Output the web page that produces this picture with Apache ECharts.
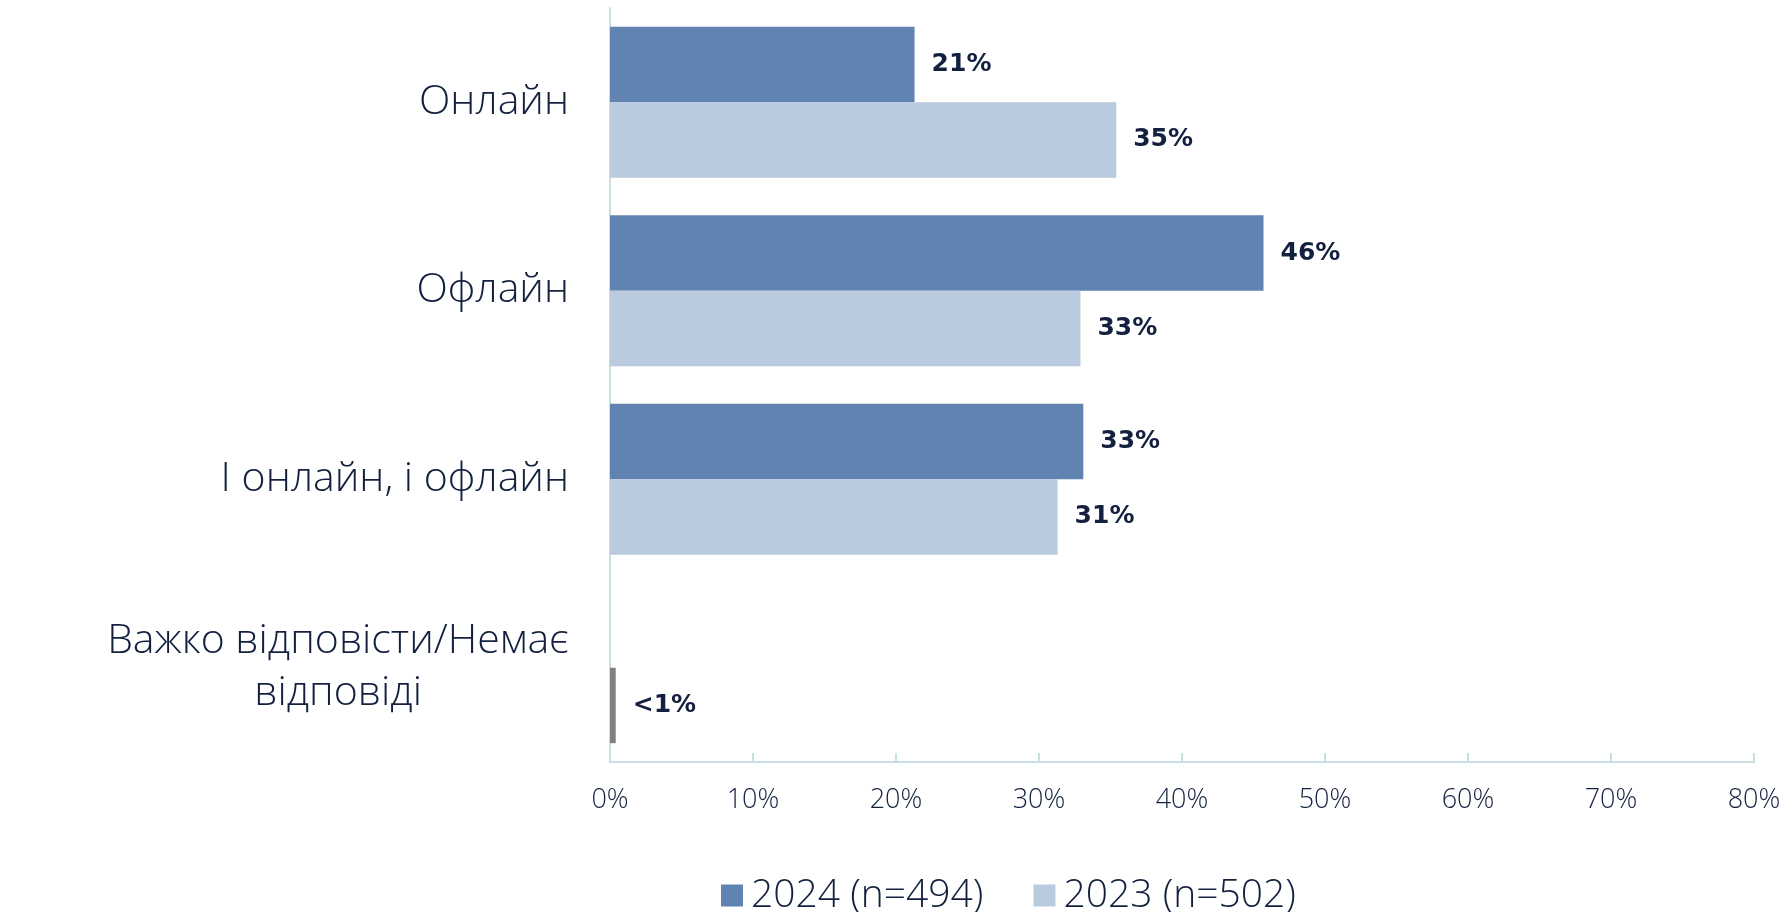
<!DOCTYPE html>
<html>
<head>
<meta charset="utf-8">
<script src="https://cdn.jsdelivr.net/npm/echarts@6/dist/echarts.min.js"></script>
<style>
html,body{margin:0;padding:0;background:#fff;}
#chart{width:1792px;height:912px;}
</style>
</head>
<body>
<div id="chart"></div>
<script>
const categories = ['Онлайн', 'Офлайн', 'І онлайн, і офлайн', 'Важко відповісти/Немає\nвідповіді'];
const seriesNames = ['2024 (n=494)', '2023 (n=502)'];
const values2024 = [21.3, 45.7, 33.1, null];
const values2023 = [35.4, 32.9, 31.3, 0.4];
const xTicks = [0, 10, 20, 30, 40, 50, 60, 70, 80];

const TEXT = '#13213F';
const FONT = "'Open Sans', 'Noto Sans', sans-serif";
const BFONT = "'DejaVu Sans', 'Open Sans', sans-serif";
const C2024 = '#6183B1';
const C2023 = '#BACADF';
const CGREY = '#808080';
const AXIS = '#C9E0E2';

function fmt(p) {
  const v = p.value;
  if (v == null) return '';
  return v < 1 ? '<1%' : Math.round(v) + '%';
}

const labelStyle = {
  show: true, position: 'right', distance: 17,
  color: TEXT, fontFamily: BFONT, fontWeight: 700, fontSize: 25,
  formatter: fmt
};

const chart = echarts.init(document.getElementById('chart'));
chart.setOption({
  backgroundColor: '#fff',
  animation: false,
  grid: { left: 610, right: 38, top: 8, bottom: 150, containLabel: false },
  legend: {
    left: 716, top: 871,
    itemWidth: 22, itemHeight: 22, itemGap: 50,
    icon: 'rect',
    textStyle: { color: TEXT, fontFamily: FONT, fontWeight: 300, fontSize: 39, padding: [0, 0, 0, 3] },
    data: seriesNames
  },
  xAxis: {
    type: 'value', min: xTicks[0], max: xTicks[xTicks.length - 1], interval: 10,
    axisLine: { show: true, lineStyle: { color: AXIS, width: 2 } },
    axisTick: { show: true, inside: true, length: 9, lineStyle: { color: AXIS, width: 2 } },
    splitLine: { show: false },
    axisLabel: {
      color: TEXT, fontFamily: FONT, fontWeight: 300, fontSize: 27, margin: 25,
      formatter: v => v + '%'
    }
  },
  yAxis: {
    type: 'category', inverse: true, data: categories,
    axisLine: { show: true, lineStyle: { color: AXIS, width: 2 } },
    axisTick: { show: false },
    axisLabel: {
      margin: 41,
      formatter: v => v.split('\n').map(s => '{c|' + s + '}').join('\n'),
      rich: {
        c: { color: TEXT, fontFamily: FONT, fontWeight: 300, fontSize: 41, lineHeight: 52, align: 'center' }
      }
    }
  },
  series: [
    {
      name: seriesNames[0], type: 'bar', data: values2024,
      barGap: '0%', barCategoryGap: '20%',
      itemStyle: { color: C2024 },
      label: labelStyle
    },
    {
      name: seriesNames[1], type: 'bar',
      data: values2023.map((v, i) => i === 3 ? { value: v, itemStyle: { color: CGREY } } : v),
      barGap: '0%', barCategoryGap: '20%',
      itemStyle: { color: C2023 },
      label: labelStyle
    }
  ]
});
</script>
</body>
</html>
